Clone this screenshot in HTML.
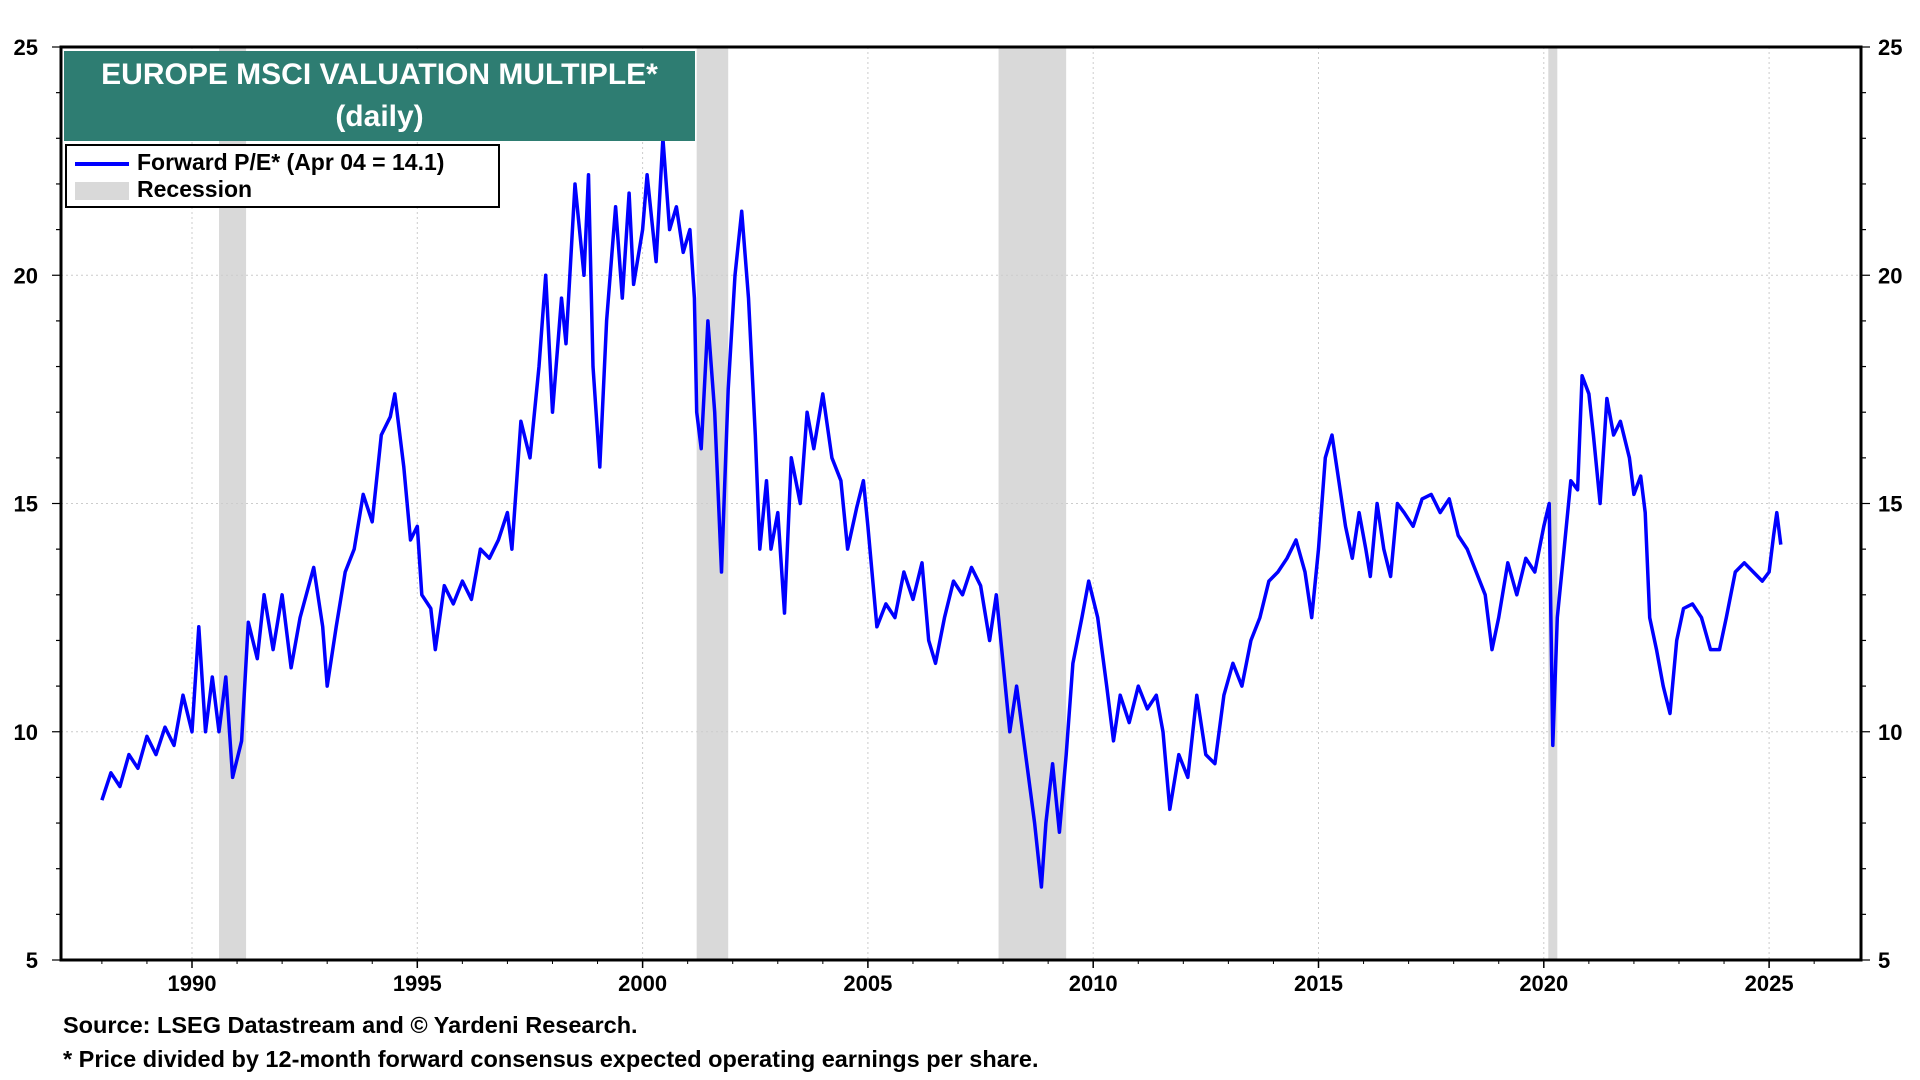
<!DOCTYPE html>
<html><head><meta charset="utf-8"><style>
html,body{margin:0;padding:0;background:#fff;width:1920px;height:1080px;overflow:hidden;font-family:"Liberation Sans",Arial,sans-serif}
svg text{font-family:"Liberation Sans",Arial,sans-serif;font-weight:bold}
</style></head><body>
<svg id="chart" width="1920" height="1080" xmlns="http://www.w3.org/2000/svg"></svg>
<script>
const dates=[1988.0,1988.2,1988.4,1988.6,1988.8,1989.0,1989.2,1989.4,1989.6,1989.8,1990.0,1990.15,1990.3,1990.45,1990.6,1990.75,1990.9,1991.1,1991.25,1991.45,1991.6,1991.8,1992.0,1992.2,1992.4,1992.7,1992.9,1993.0,1993.2,1993.4,1993.6,1993.8,1994.0,1994.2,1994.4,1994.5,1994.7,1994.85,1995.0,1995.1,1995.3,1995.4,1995.6,1995.8,1996.0,1996.2,1996.4,1996.6,1996.8,1997.0,1997.1,1997.3,1997.5,1997.7,1997.85,1998.0,1998.2,1998.3,1998.5,1998.7,1998.8,1998.9,1999.05,1999.2,1999.4,1999.55,1999.7,1999.8,2000.0,2000.1,2000.3,2000.45,2000.6,2000.75,2000.9,2001.05,2001.15,2001.2,2001.3,2001.45,2001.6,2001.75,2001.9,2002.05,2002.2,2002.35,2002.5,2002.6,2002.75,2002.85,2003.0,2003.15,2003.3,2003.5,2003.65,2003.8,2004.0,2004.2,2004.4,2004.55,2004.75,2004.9,2005.0,2005.2,2005.4,2005.6,2005.8,2006.0,2006.2,2006.35,2006.5,2006.7,2006.9,2007.1,2007.3,2007.5,2007.7,2007.85,2008.0,2008.15,2008.3,2008.5,2008.7,2008.85,2008.95,2009.1,2009.25,2009.4,2009.55,2009.75,2009.9,2010.1,2010.3,2010.45,2010.6,2010.8,2011.0,2011.2,2011.4,2011.55,2011.7,2011.9,2012.1,2012.3,2012.5,2012.7,2012.9,2013.1,2013.3,2013.5,2013.7,2013.9,2014.1,2014.3,2014.5,2014.7,2014.85,2015.0,2015.15,2015.3,2015.45,2015.6,2015.75,2015.9,2016.05,2016.15,2016.3,2016.45,2016.6,2016.75,2016.9,2017.1,2017.3,2017.5,2017.7,2017.9,2018.1,2018.3,2018.5,2018.7,2018.85,2019.0,2019.2,2019.4,2019.6,2019.8,2020.0,2020.12,2020.2,2020.3,2020.45,2020.6,2020.75,2020.85,2021.0,2021.1,2021.25,2021.4,2021.55,2021.7,2021.9,2022.0,2022.15,2022.25,2022.35,2022.5,2022.65,2022.8,2022.95,2023.1,2023.3,2023.5,2023.7,2023.9,2024.05,2024.25,2024.45,2024.65,2024.85,2025.0,2025.1,2025.17,2025.26];
const values=[8.5,9.1,8.8,9.5,9.2,9.9,9.5,10.1,9.7,10.8,10.0,12.3,10.0,11.2,10.0,11.2,9.0,9.8,12.4,11.6,13.0,11.8,13.0,11.4,12.5,13.6,12.3,11.0,12.3,13.5,14.0,15.2,14.6,16.5,16.9,17.4,15.8,14.2,14.5,13.0,12.7,11.8,13.2,12.8,13.3,12.9,14.0,13.8,14.2,14.8,14.0,16.8,16.0,18.0,20.0,17.0,19.5,18.5,22.0,20.0,22.2,18.0,15.8,19.0,21.5,19.5,21.8,19.8,21.0,22.2,20.3,23.0,21.0,21.5,20.5,21.0,19.5,17.0,16.2,19.0,17.0,13.5,17.5,20.0,21.4,19.5,16.5,14.0,15.5,14.0,14.8,12.6,16.0,15.0,17.0,16.2,17.4,16.0,15.5,14.0,14.9,15.5,14.5,12.3,12.8,12.5,13.5,12.9,13.7,12.0,11.5,12.5,13.3,13.0,13.6,13.2,12.0,13.0,11.5,10.0,11.0,9.5,8.0,6.6,8.0,9.3,7.8,9.5,11.5,12.5,13.3,12.5,11.0,9.8,10.8,10.2,11.0,10.5,10.8,10.0,8.3,9.5,9.0,10.8,9.5,9.3,10.8,11.5,11.0,12.0,12.5,13.3,13.5,13.8,14.2,13.5,12.5,14.0,16.0,16.5,15.5,14.5,13.8,14.8,14.0,13.4,15.0,14.0,13.4,15.0,14.8,14.5,15.1,15.2,14.8,15.1,14.3,14.0,13.5,13.0,11.8,12.5,13.7,13.0,13.8,13.5,14.5,15.0,9.7,12.5,14.0,15.5,15.3,17.8,17.4,16.5,15.0,17.3,16.5,16.8,16.0,15.2,15.6,14.8,12.5,11.8,11.0,10.4,12.0,12.7,12.8,12.5,11.8,11.8,12.5,13.5,13.7,13.5,13.3,13.5,14.3,14.8,14.1];
const recStart=[1990.6,2001.2,2007.9,2020.1];
const recEnd=[1991.2,2001.9,2009.4,2020.3];
const yTicks=[5,10,15,20,25];
const xTicks=[1990,1995,2000,2005,2010,2015,2020,2025];

const NS="http://www.w3.org/2000/svg";
const svg=document.getElementById('chart');
const L=61,R=1861,T=47,B=960;
const x=v=>192+(v-1990)*45.06;
const y=v=>B-(v-5)/20*(B-T);
function el(tag,attrs,parent){const e=document.createElementNS(NS,tag);for(const k in attrs)e.setAttribute(k,attrs[k]);(parent||svg).appendChild(e);return e;}

for(let i=0;i<recStart.length;i++){
  const r=el('rect',{x:x(recStart[i]),y:T,width:x(recEnd[i])-x(recStart[i]),height:B-T,fill:'#d9d9d9'});
  
  
}
xTicks.forEach(t=>{
  const g=el('line',{x1:x(t),x2:x(t),y1:T,y2:B,stroke:'#ccc','stroke-dasharray':'2,3','stroke-width':1});
  
  
  const tk=el('line',{x1:x(t),x2:x(t),y1:B,y2:B+8,stroke:'#000','stroke-width':1.5});
  
  
  const tx=el('text',{x:x(t),y:B+31,'text-anchor':'middle','font-size':22});
  tx.textContent=t;
  
  
});
for(let yr=1988;yr<=2026;yr++){
  const m=el('line',{x1:x(yr),x2:x(yr),y1:B,y2:B+4,stroke:'#000','stroke-width':1});
  
  
}
yTicks.forEach(t=>{
  if(t>5&&t<25){const g=el('line',{x1:L,x2:R,y1:y(t),y2:y(t),stroke:'#ccc','stroke-dasharray':'2,3','stroke-width':1});
  
  }
  const a=el('text',{x:38,y:y(t)+8,'text-anchor':'end','font-size':22});a.textContent=t;
  
  
  const b=el('text',{x:1878,y:y(t)+8,'text-anchor':'start','font-size':22});b.textContent=t;
  
  
});
for(let v=5;v<=25;v++){
  const len=v%5===0?9:5;
  const a=el('line',{x1:L-len,x2:L,y1:y(v),y2:y(v),stroke:'#000','stroke-width':1.2});
  
  
  const b=el('line',{x1:R,x2:R+len,y1:y(v),y2:y(v),stroke:'#000','stroke-width':1.2});
  
  
}
const pts=dates.map((d,i)=>x(d).toFixed(1)+','+y(values[i]).toFixed(1)).join(' ');
const line=el('polyline',{points:pts,fill:'none',stroke:'#0000ff','stroke-width':3.5,'stroke-linejoin':'round'});


const frame=el('rect',{x:L,y:T,width:R-L,height:B-T,fill:'none',stroke:'#000','stroke-width':3});


</script>
<div style="position:absolute;left:64px;top:51px;width:631px;height:90px;background:#2e7d72;color:#fff;font-weight:bold;font-size:30px;text-align:center;line-height:42px;padding-top:3px;box-sizing:border-box">EUROPE MSCI VALUATION MULTIPLE*<br>(daily)</div>
<div style="position:absolute;left:65px;top:144px;width:435px;height:64px;background:#fff;border:2px solid #000;box-sizing:border-box;font-weight:bold;font-size:23px">
  <div style="position:absolute;left:8px;top:3px;white-space:nowrap"><span style="display:inline-block;width:54px;height:4px;background:#0000ff;vertical-align:middle;margin-right:8px"></span>Forward P/E* (Apr 04 = 14.1)</div>
  <div style="position:absolute;left:8px;top:30px;white-space:nowrap"><span style="display:inline-block;width:54px;height:18px;background:#d9d9d9;vertical-align:middle;margin-right:8px"></span>Recession</div>
</div>
<div style="position:absolute;left:63px;top:1012px;font-weight:bold;font-size:23.5px">Source: LSEG Datastream and © Yardeni Research.</div>
<div style="position:absolute;left:63px;top:1046px;font-weight:bold;font-size:23.5px">* Price divided by 12-month forward consensus expected operating earnings per share.</div>
</body></html>
